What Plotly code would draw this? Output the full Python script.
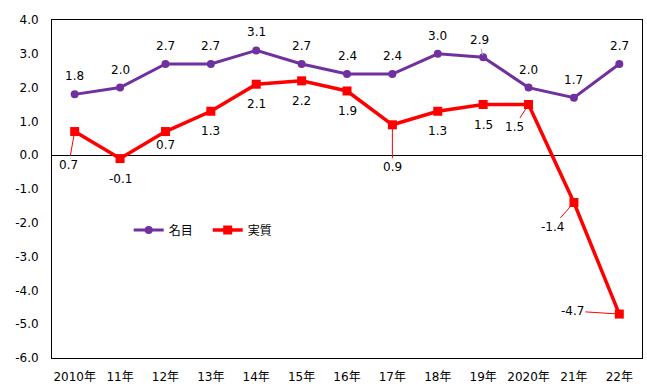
import plotly.graph_objects as go

categories = ["2010年", "11年", "12年", "13年", "14年", "15年", "16年",
              "17年", "18年", "19年", "2020年", "21年", "22年"]
nominal = [1.8, 2.0, 2.7, 2.7, 3.1, 2.7, 2.4, 2.4, 3.0, 2.9, 2.0, 1.7, 2.7]
real = [0.7, -0.1, 0.7, 1.3, 2.1, 2.2, 1.9, 0.9, 1.3, 1.5, 1.5, -1.4, -4.7]
y_ticks = [4.0, 3.0, 2.0, 1.0, 0.0, -1.0, -2.0, -3.0, -4.0, -5.0, -6.0]

PURPLE = "#7030A0"
RED = "#FF0000"
FONT = "DejaVu Sans, Noto Sans CJK JP, sans-serif"

fig = go.Figure()
fig.add_trace(go.Scatter(
    x=categories, y=nominal, name="名目", mode="lines+markers",
    line=dict(color=PURPLE, width=3),
    marker=dict(symbol="circle", size=8, color=PURPLE),
))
fig.add_trace(go.Scatter(
    x=categories, y=real, name="実質", mode="lines+markers",
    line=dict(color=RED, width=3.5),
    marker=dict(symbol="square", size=9, color=RED),
))

annotations = []
# nominal labels above points
nom_special = {9: (-4, -17, "#A0A0A0")}
for i, (c, v) in enumerate(zip(categories, nominal)):
    txt = f"{v:.1f}"
    if i in nom_special:
        ax, ay, col = nom_special[i]
        annotations.append(dict(x=c, y=v, text=txt, showarrow=True, arrowhead=0,
                                arrowwidth=1, arrowcolor=col, ax=ax, ay=ay, standoff=2))
    else:
        annotations.append(dict(x=c, y=v, text=txt, showarrow=False, yshift=18))

# real labels (mostly below), some with leader lines
real_special = {0: (-6, 33), 7: (0, 42), 10: (-14, 22), 11: (-21, 24), 12: (-47, -3)}
real_shift = {2: -13}
for i, (c, v) in enumerate(zip(categories, real)):
    txt = f"{v:.1f}"
    if i in real_special:
        ax, ay = real_special[i]
        annotations.append(dict(x=c, y=v, text=txt, showarrow=True, arrowhead=0,
                                arrowwidth=1, arrowcolor=RED, ax=ax, ay=ay, standoff=1))
    else:
        annotations.append(dict(x=c, y=v, text=txt, showarrow=False,
                                yshift=real_shift.get(i, -20)))

fig.update_layout(
    width=647, height=390,
    margin=dict(l=52, r=5, t=20, b=32),
    paper_bgcolor="white", plot_bgcolor="white",
    font=dict(family=FONT, size=12, color="#000000"),
    showlegend=True,
    legend=dict(orientation="h", x=0.13, y=0.379, xanchor="left", yanchor="middle",
                bgcolor="rgba(0,0,0,0)", font=dict(size=12), itemwidth=30,
                entrywidth=34, entrywidthmode="pixels"),
    annotations=annotations,
)
fig.update_xaxes(
    type="category", range=[-0.5, len(categories) - 0.5], automargin=False,
    showline=True, linecolor="black", linewidth=1, mirror=True,
    showgrid=False, ticks="", tickfont=dict(size=12), ticklabelstandoff=8,
)
fig.update_yaxes(
    range=[-6, 4], tickvals=y_ticks, ticktext=[f"{t:.1f}" for t in y_ticks],
    automargin=False,
    showline=True, linecolor="black", linewidth=1, mirror=True,
    showgrid=False, zeroline=True, zerolinecolor="black", zerolinewidth=1,
    ticks="", tickfont=dict(size=12), ticklabelstandoff=10,
)

fig.write_html("out.html", config={"displayModeBar": False},
               post_script="document.body.style.margin='0';document.body.style.overflow='hidden';")
